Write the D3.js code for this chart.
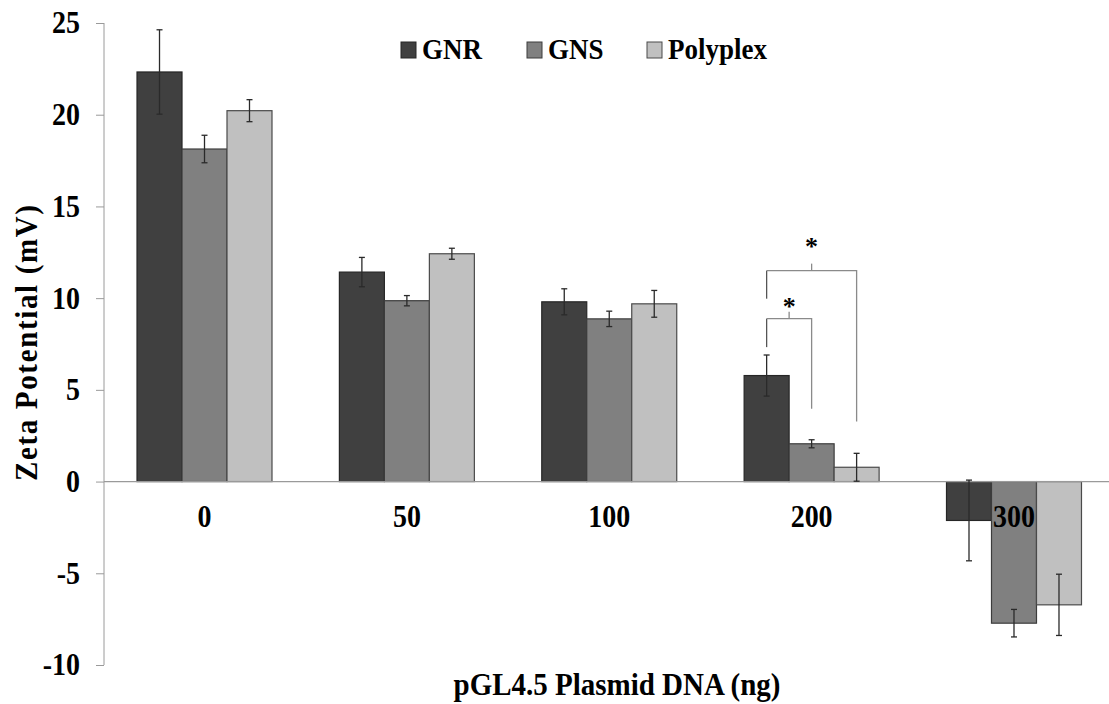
<!DOCTYPE html>
<html>
<head>
<meta charset="utf-8">
<script src="https://cdn.jsdelivr.net/npm/d3@7"></script>
<style>
  html, body { margin: 0; padding: 0; background: #fff; }
  svg { display: block; }
  text { font-family: "Liberation Serif", "Times New Roman", serif; font-weight: bold; fill: #000; }
</style>
</head>
<body>
<div id="chart"></div>
<script>
// ---- data ----
const categories = ["0", "50", "100", "200", "300"];
const series = ["GNR", "GNS", "Polyplex"];
const gnrValues      = [22.33, 11.42, 9.80, 5.78, -2.12];
const gnrErrors      = [2.30, 0.80, 0.71, 1.12, 2.20];
const gnsValues      = [18.13, 9.86, 8.87, 2.06, -7.72];
const gnsErrors      = [0.75, 0.28, 0.42, 0.22, 0.75];
const polyplexValues = [20.22, 12.42, 9.69, 0.78, -6.72];
const polyplexErrors = [0.60, 0.30, 0.73, 0.76, 1.67];
const yTicks = [-10, -5, 0, 5, 10, 15, 20, 25];
// significance brackets (values in mV units)
const brackets = [
  { cat: "200", from: "GNR", to: "GNS",      level: 8.88, leftEnd: 7.33, rightEnd: 3.97, labelLevel: 9.87, label: "*" },
  { cat: "200", from: "GNR", to: "Polyplex", level: 11.5, leftEnd: 9.97, rightEnd: 3.27, labelLevel: 13.1, label: "*" }
];

const valuesBySeries = { GNR: gnrValues, GNS: gnsValues, Polyplex: polyplexValues };
const errorsBySeries = { GNR: gnrErrors, GNS: gnsErrors, Polyplex: polyplexErrors };
const colors = { GNR: "#404040", GNS: "#808080", Polyplex: "#c0c0c0" };
const strokes = { GNR: "#262626", GNS: "#3c3c3c", Polyplex: "#4a4a4a" };

const rows = [];
categories.forEach((c, i) => series.forEach(s => rows.push({ cat: c, series: s, value: valuesBySeries[s][i], err: errorsBySeries[s][i] })));

// ---- layout ----
const W = 1109, H = 704;
const SY = 1.1; // vertical stretch of glyphs seen in the reference
const svg = d3.select("#chart").append("svg").attr("width", W).attr("height", H);

function label(sel, px, py, size, txt, anchor, rot) {
  return sel.append("text")
    .attr("transform", `translate(${px},${py})${rot ? ` rotate(${rot})` : ""} scale(1,${SY})`)
    .attr("text-anchor", anchor || "start")
    .attr("font-size", size)
    .text(txt);
}

const x = d3.scaleBand().domain(categories).range([103.5, 1115]).paddingInner(0.333).paddingOuter(0.1656);
const xs = d3.scaleBand().domain(series).range([0, x.bandwidth()]);
const y = d3.scaleLinear().domain([-10, 25]).range([665, 23]);

// bars
svg.append("g").selectAll("rect").data(rows).join("rect")
  .attr("x", d => x(d.cat) + xs(d.series))
  .attr("width", xs.bandwidth())
  .attr("y", d => y(Math.max(0, d.value)))
  .attr("height", d => Math.abs(y(d.value) - y(0)))
  .attr("fill", d => colors[d.series])
  .attr("stroke", d => strokes[d.series])
  .attr("stroke-width", 1.2);

// y axis
const yAxis = svg.append("g").attr("transform", "translate(104,0)")
  .call(d3.axisLeft(y).tickValues(yTicks).tickSize(8).tickPadding(16).tickFormat(d => String(d)));
yAxis.select(".domain").attr("stroke", "#9a9a9a").attr("d", `M0,${y(25)}V${y(-10)}`);
yAxis.selectAll(".tick line").attr("stroke", "#9a9a9a");
yAxis.selectAll(".tick text")
  .attr("font-size", 28).attr("font-family", "Liberation Serif").attr("font-weight", "bold").attr("fill", "#000")
  .attr("transform", `scale(1,${SY})`);

// zero line
svg.append("line").attr("x1", 104).attr("x2", W).attr("y1", y(0)).attr("y2", y(0))
  .attr("stroke", "#9a9a9a").attr("stroke-width", 1.2);

// error bars
const eb = svg.append("g").attr("stroke", "#2a2a2a").attr("stroke-width", 1.3);
rows.forEach(d => {
  const cx = x(d.cat) + xs(d.series) + xs.bandwidth() / 2;
  const y1 = y(d.value + d.err), y2 = y(d.value - d.err);
  eb.append("line").attr("x1", cx).attr("x2", cx).attr("y1", y1).attr("y2", y2);
  eb.append("line").attr("x1", cx - 3).attr("x2", cx + 3).attr("y1", y1).attr("y2", y1);
  eb.append("line").attr("x1", cx - 3).attr("x2", cx + 3).attr("y1", y2).attr("y2", y2);
});

// category labels
const cg = svg.append("g");
categories.forEach(c => label(cg, x(c) + x.bandwidth() / 2, 527, 28, c, "middle"));

// significance brackets
const bg = svg.append("g").attr("fill", "none");
brackets.forEach(b => {
  const xl = x(b.cat) + xs(b.from) + xs.bandwidth() / 2;
  const xr = x(b.cat) + xs(b.to) + xs.bandwidth() / 2;
  const yl = y(b.level);
  bg.append("path").attr("d", `M${xl},${y(b.leftEnd)}V${yl}`).attr("stroke", "#555").attr("stroke-width", 1.3);
  bg.append("path").attr("d", `M${xl},${yl}H${xr}V${y(b.rightEnd)}`).attr("stroke", "#8a8a8a").attr("stroke-width", 1.3);
  const xm = (xl + xr) / 2;
  bg.append("path").attr("d", `M${xm},${yl}V${yl - 7}`).attr("stroke", "#8a8a8a").attr("stroke-width", 1.3);
  svg.append("text").attr("x", xm).attr("y", y(b.labelLevel) + 14).attr("text-anchor", "middle")
    .attr("font-size", 26).attr("font-weight", "normal").attr("font-family", "DejaVu Sans").text(b.label);
});

// legend
const legendX = [401, 527, 647];
const lg = svg.append("g");
series.forEach((s, i) => {
  lg.append("rect").attr("x", legendX[i]).attr("y", 42).attr("width", 15).attr("height", 16)
    .attr("fill", colors[s]).attr("stroke", strokes[s]).attr("stroke-width", 1);
  label(lg, legendX[i] + 21, 59, 27, s);
});

// axis titles
label(svg, 617, 695, 29, "pGL4.5 Plasmid DNA (ng)", "middle");
svg.append("text").attr("transform", `translate(37,343) rotate(-90) scale(1.0,${SY})`).attr("text-anchor", "middle")
  .attr("font-size", 29).attr("textLength", 276).attr("lengthAdjust", "spacing").text("Zeta Potential (mV)");
</script>
</body>
</html>
